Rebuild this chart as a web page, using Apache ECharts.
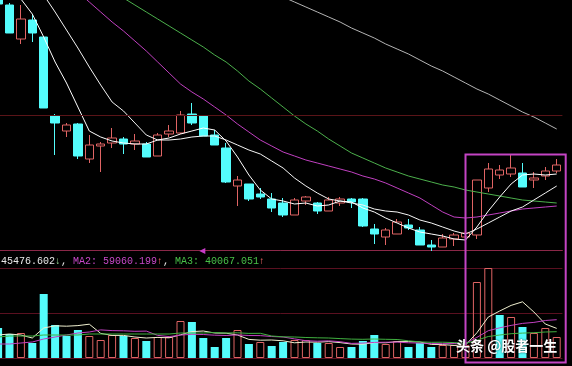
<!DOCTYPE html>
<html><head><meta charset="utf-8">
<script src="https://cdn.jsdelivr.net/npm/echarts@6/dist/echarts.min.js"></script>
<style>html,body{margin:0;padding:0;background:#000;}#c{width:572px;height:366px;}</style>
</head><body><div id="c"></div>
<script>
const categories = [];
for (let i = 0; i < 50; i++) categories.push('D' + (i + 1));

const candleOpen  = [270,245,211,230,213,134,119,126,91,104,107,111,106,106,94,116,117,136,134,115,102,64,66,56,51,47,35,49,47,39,47,51,51,21,13,16,25,20,5,3,11,13,15,62,75,76,77,70,74,79];
const candleClose = [246,217,231,217,142,127,125,94,105,106,112,106,109,93,115,119,135,127,114,105,68,70,51,53,42,35,50,53,39,50,51,48,24,16,20,28,22,5,3,12,15,17,70,81,80,82,63,72,79,85];
const candleLow   = [244,217,206,208,142,95,113,91,87,78,102,96,100,93,94,113,116,125,114,105,67,44,49,51,38,33,35,45,36,39,44,42,23,6,5,16,20,5,-1,3,4,10,11,58,71,73,63,62,70,77];
const candleHigh  = [275,247,245,235,213,136,127,127,115,108,122,113,116,108,117,125,139,147,135,120,107,74,66,62,57,52,52,54,48,53,53,52,52,26,22,31,31,23,10,16,17,20,70,87,85,95,87,78,83,91];

const ma5  = [290,270,251,236,213,188,167,143,119,113,109,107,106,106,110,112,116,119,122,120,109,93,75,60,51,49,46,47,44,45,49,48,42,38,32,27,22,18,16,14,11,10,23,39,53,66,75,76,75,76];
const ma10 = [335,315,295,275,255,238,220,202,183,165,148,139,127,115,110,110,111,113,114,114,110,105,100,96,89,82,72,64,57,51,49,47,45,41,39,38,35,30,27,23,19,16,21,27,33,39,43,50,57,64];
const ma20 = [328,318,308,298,288,278,268,258,248,238,228,219,209,199,188,177,166,158,151,143,135,126,118,110,104,98,94,90,87,84,81,78,74,71,67,62,57,52,45,38,33,32,33,35,37,39,41,42,43,44];
const ma30 = [329,322,315,308,301,294,287,280,273,266,259,252,245,238,231,224,217,210,203,195,188,179,169,161,152,143,134,126,119,111,104,97,92,87,82,78,74,71,68,65,63,60,58,56,54,52,50,49,48,47];
const ma60 = [385,380,374,369,363,358,352,347,341,336,330,325,319,314,308,303,297,292,286,281,275,270,264,259,256,253,248,243,238,233,228,222,217,212,206,201,196,190,184,179,173,167,161,156,150,144,138,133,127,121];

const volume = [30,24,25,15,64,33,22,28,22,18,23,22,20,17,21,21,37,36,20,11,20,28,14,16,12,16,18,18,15,15,11,11,17,23,14,17,11,15,11,13,13,13,76,90,43,41,31,25,30,21];
const volumeUp = [0,0,1,0,0,0,0,0,1,1,1,0,1,0,1,1,1,0,0,0,0,1,0,1,0,0,1,1,0,1,1,0,0,0,1,1,0,0,0,1,1,1,1,1,0,1,0,1,1,1];
const volMa1 = [23,24,23,20,30,32.2,31.8,32.4,33.8,24.6,22.6,22.6,21,20,20.6,20.2,23.2,26.4,27,25,24.8,23,18.6,17.8,18,17.2,15.2,16,15.8,16.4,15.4,14,13.8,15.4,15.2,16.4,16.4,16,13.6,13.4,12.6,13,25.2,41,47,52.6,56.2,46,34,29.6];
const volMa2 = [14,14,15,16,19,21,23,25,26,28.1,27.4,27.2,26.7,26.9,22.6,21.4,22.9,23.7,23.5,22.8,22.5,23.1,22.5,22.4,21.5,21,19.1,17.3,16.8,17.2,16.3,14.6,14.9,15.6,15.8,15.9,15.2,14.9,14.5,14.3,14.5,14.7,20.6,27.3,30.2,32.6,34.6,35.6,37.5,38.3];
const volMa3 = [21,22,22,22,23,23,23,23,24,24,24,24,24,24,24,24,25,25,25,25.5,25,25.2,24.6,24.7,22,21.2,21,20.5,20.2,20,19.4,18.9,18.7,19,18.7,18.5,17.2,16.1,15.7,15.8,15.4,14.7,17.8,21.5,23,24.3,24.9,25.3,26,26.3];

const legendText = { v1: '45476.602', v2: '59060.199', v3: '40067.051' };
const watermark = '头条 @股者一生';

const UP = '#e06464', DOWN = '#54fcfc';
const candleData = candleOpen.map((o, i) => [o, candleClose[i], candleLow[i], candleHigh[i]]);
const volData = volume.map((v, i) => ({
  value: v,
  itemStyle: volumeUp[i] ? { color: 'rgba(0,0,0,0)', borderColor: UP, borderWidth: 1 } : { color: DOWN }
}));

const chart = echarts.init(document.getElementById('c'), null, { renderer: 'canvas' });
const lineS = (name, data, color, xi, yi, z) => ({
  name, type: 'line', data, xAxisIndex: xi, yAxisIndex: yi, showSymbol: false, symbol: 'none',
  lineStyle: { color, width: 1 }, itemStyle: { color }, z: z || 3, silent: true, animation: false
});

chart.setOption({
  backgroundColor: '#000',
  animation: false,
  grid: [
    { left: -7.6, width: 570, top: 0, height: 250, outerBoundsMode: 'none', containLabel: false },
    { left: -7.6, width: 570, top: 268, height: 90, outerBoundsMode: 'none', containLabel: false }
  ],
  xAxis: [
    { type: 'category', gridIndex: 0, data: categories, boundaryGap: true,
      axisLine: { show: true, lineStyle: { color: '#8a2848', width: 1 } }, axisTick: { show: false }, axisLabel: { show: false }, splitLine: { show: false } },
    { type: 'category', gridIndex: 1, data: categories, boundaryGap: true,
      axisLine: { show: false }, axisTick: { show: false }, axisLabel: { show: false }, splitLine: { show: false } }
  ],
  yAxis: [
    { type: 'value', gridIndex: 0, min: 0, max: 250, show: true, axisLine: { show: false }, axisTick: { show: false }, axisLabel: { show: false }, splitLine: { show: false } },
    { type: 'value', gridIndex: 1, min: 0, max: 90, interval: 45, axisLine: { show: false }, axisTick: { show: false }, axisLabel: { show: false },
      splitLine: { show: true, lineStyle: { color: '#5a1020', width: 1 } } }
  ],
  series: [
    { name: 'K', type: 'candlestick', data: candleData, xAxisIndex: 0, yAxisIndex: 0, barWidth: 9, clip: true, z: 2,
      itemStyle: { color: 'rgba(0,0,0,0)', color0: DOWN, borderColor: UP, borderColor0: DOWN, borderWidth: 1 },
      markLine: { silent: true, symbol: 'none', label: { show: false }, lineStyle: { color: '#5a1418', type: 'solid', width: 1 }, data: [{ yAxis: 135 }] }
    },
    lineS('MA60', ma60, '#b4b4b4', 0, 0),
    lineS('MA30', ma30, '#4cb04c', 0, 0),
    lineS('MA20', ma20, '#c040c0', 0, 0),
    lineS('MA10', ma10, '#f4f4f4', 0, 0),
    lineS('MA5', ma5, '#ffffff', 0, 0),
    { name: 'VOL', type: 'bar', data: volData, xAxisIndex: 1, yAxisIndex: 1, barWidth: 8, z: 2, silent: true },
    lineS('VMA1', volMa1, '#f0f0d0', 1, 1),
    lineS('VMA2', volMa2, '#c040c0', 1, 1),
    lineS('VMA3', volMa3, '#40b040', 1, 1)
  ]
});

const px = (idx) => chart.convertToPixel({ xAxisIndex: 0 }, categories[idx]);
const x40 = px(41), x48 = px(49);
const tx = px(18);
chart.setOption({
  graphic: [
    { type: 'text', left: 1, top: 256, z: 10, silent: true,
      style: {
        text: '{w|' + legendText.v1 + '}{g|↓}{w|, }{m|MA2: ' + legendText.v2 + '}{r|↑}{w|, }{gr|MA3: ' + legendText.v3 + '}{r|↑}',
        rich: {
          w: { fill: '#e8e8e8', font: '10px "Liberation Mono"' },
          g: { fill: '#9ae09a', font: '10px "Liberation Mono"' },
          m: { fill: '#c848c8', font: '10px "Liberation Mono"' },
          r: { fill: '#ff6a6a', font: '10px "Liberation Mono"' },
          gr: { fill: '#48c048', font: '10px "Liberation Mono"' }
        }
      } },
    { type: 'polygon', z: 10, silent: true,
      shape: { points: [[tx - 4, 251], [tx + 2, 248], [tx + 2, 254]] },
      style: { fill: '#c83cc8' } },
    { type: 'rect', z: 9, silent: true,
      shape: { x: x40, y: 154.5, width: (x48 + 9) - x40, height: 208 },
      style: { fill: 'none', stroke: '#c444c4', lineWidth: 2 } },
    { type: 'text', left: 456, top: 339, z: 11, silent: true,
      style: { text: watermark, fill: '#ffffff', font: 'bold 14px "Noto Sans CJK SC"',
        textShadowColor: 'rgba(0,0,0,0.8)', textShadowBlur: 2 } }
  ]
});
</script></body></html>
